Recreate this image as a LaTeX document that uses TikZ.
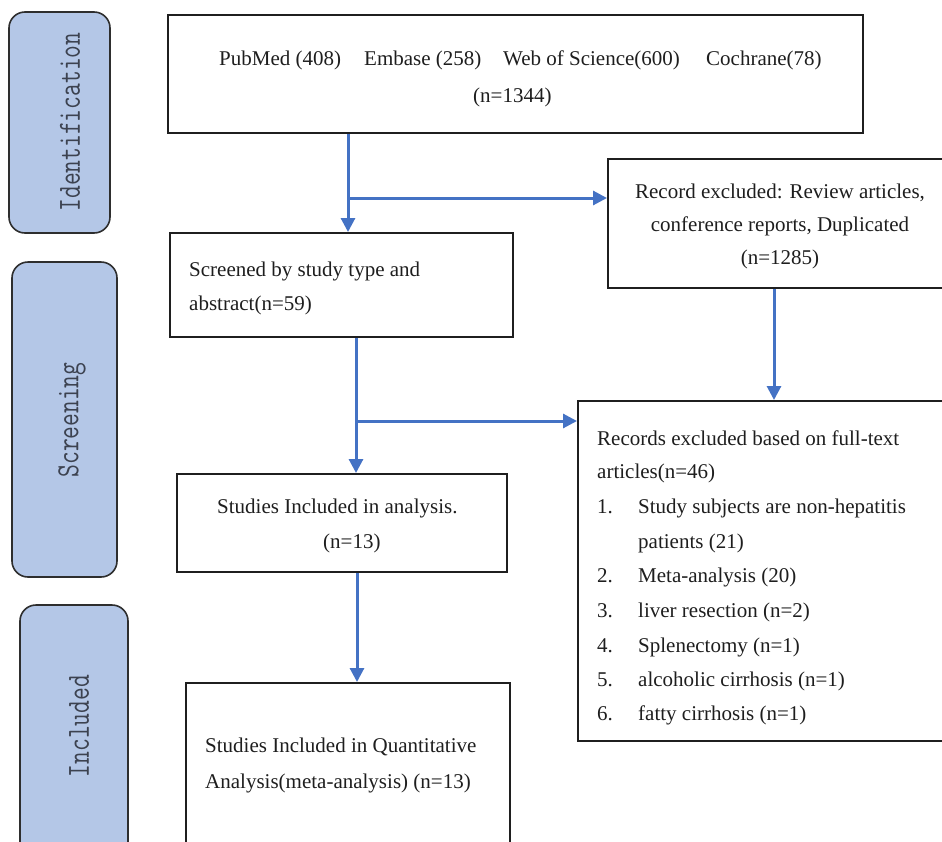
\documentclass[tikz,border=0pt]{standalone}
\usepackage{graphicx}
\usepackage{fontspec}
\setmainfont{Liberation Serif}
\usetikzlibrary{arrows.meta}
\definecolor{arrowblue}{HTML}{4472C4}
\definecolor{sidefill}{HTML}{B4C7E7}
\definecolor{sideline}{HTML}{2E2E2E}
\definecolor{sidetext}{HTML}{3C4250}
\definecolor{textdark}{HTML}{1E1E1E}
\begin{document}
\begin{tikzpicture}[x=1pt,y=-1pt,
  box/.style={draw=black!88, line width=2pt, rectangle, inner sep=0pt},
  sidebox/.style={draw=sideline, fill=sidefill, line width=1.6pt, rounded corners=16pt, rectangle, inner sep=0pt},
  sidelabel/.style={rotate=90, inner sep=0pt, text=sidetext, font=\ttfamily\fontsize{24.8}{26}\selectfont},
  txt/.style={anchor=base west, inner sep=0pt, text=textdark, font=\fontsize{21}{25}\selectfont},
  ctxt/.style={txt, anchor=base},
  arr/.style={draw=arrowblue, line width=3pt, -{Triangle[length=14pt,width=14pt]}}
]
\useasboundingbox (0,0) rectangle (942,841);
\clip (0,0) rectangle (942,841);

% side phase boxes
\node[sidebox, minimum width=101pt, minimum height=221pt] (sid) at (59.5,122.5) {};
\node[sidebox, minimum width=105pt, minimum height=315pt] (sscr) at (64.5,419.5) {};
\node[sidebox, minimum width=108pt, minimum height=295pt] (sinc) at (74,752.5) {};
\node[sidelabel] (lid) at (70,122) {\scalebox{1}[1.3]{Identification}};
\node[sidelabel] (lscr) at (72,420) {\scalebox{1}[1.3]{Screening}};
\node[sidelabel] (linc) at (79,726) {\scalebox{1}[1.3]{Included}};

% flow boxes
\node[box, minimum width=695pt, minimum height=118pt] (top) at (515.5,74) {};
\node[box, minimum width=343pt, minimum height=104pt] (scr) at (341.5,285) {};
\node[box, minimum width=352pt, minimum height=129pt] (rec) at (784,223.5) {};
\node[box, minimum width=330pt, minimum height=98pt] (stud) at (342,523) {};
\node[box, minimum width=382pt, minimum height=340pt] (full) at (769,571) {};
\node[box, minimum width=324pt, minimum height=197pt] (bot) at (348,781.5) {};

% texts
\node[txt] (t1) at (219,65) {PubMed (408)};
\node[txt] (t2) at (364,65) {Embase (258)};
\node[txt] (t3) at (503,65) {Web of Science(600)};
\node[txt] (t4) at (706,65) {Cochrane(78)};
\node[txt] (t5) at (473,102) {(n=1344)};

\node[txt] (s1) at (189,276) {Screened by study type and};
\node[txt] (s2) at (189,310) {abstract(n=59)};

\node[ctxt] (r1) at (780,198) {Record excluded: Review articles,};
\node[ctxt] (r2) at (780,231) {conference reports, Duplicated};
\node[ctxt] (r3) at (780,264) {(n=1285)};

\node[txt] (u1) at (217,513) {Studies Included in analysis.};
\node[txt] (u2) at (323,548) {(n=13)};

\node[txt] (q1) at (205,752) {Studies Included in Quantitative};
\node[txt] (q2) at (205,788) {Analysis(meta-analysis) (n=13)};

\node[txt] (f0) at (597,445) {Records excluded based on full-text};
\node[txt] (f00) at (597,478) {articles(n=46)};
\node[txt] (n1) at (597,513) {1.};
\node[txt] (i1) at (638,513) {Study subjects are non-hepatitis};
\node[txt] (i1b) at (638,548) {patients (21)};
\node[txt] (n2) at (597,582) {2.};
\node[txt] (i2) at (638,582) {Meta-analysis (20)};
\node[txt] (n3) at (597,617) {3.};
\node[txt] (i3) at (638,617) {liver resection (n=2)};
\node[txt] (n4) at (597,652) {4.};
\node[txt] (i4) at (638,652) {Splenectomy (n=1)};
\node[txt] (n5) at (597,686) {5.};
\node[txt] (i5) at (638,686) {alcoholic cirrhosis (n=1)};
\node[txt] (n6) at (597,720) {6.};
\node[txt] (i6) at (638,720) {fatty cirrhosis (n=1)};

% connector positions
\coordinate (cx1) at (348,0);
\coordinate (cx2) at (356,0);
\coordinate (cx3) at (774,0);
\coordinate (cx4) at (357,0);
\coordinate (b1) at (348,198);
\coordinate (b2) at (356,421);

\draw[arr] (top.south -| cx1) -- (scr.north -| cx1);
\draw[arr] (b1) -- (b1 -| rec.west);
\draw[arr] (rec.south -| cx3) -- (full.north -| cx3);
\draw[arr] (scr.south -| cx2) -- (stud.north -| cx2);
\draw[arr] (b2) -- (b2 -| full.west);
\draw[arr] (stud.south -| cx4) -- (bot.north -| cx4);
\end{tikzpicture}
\end{document}
